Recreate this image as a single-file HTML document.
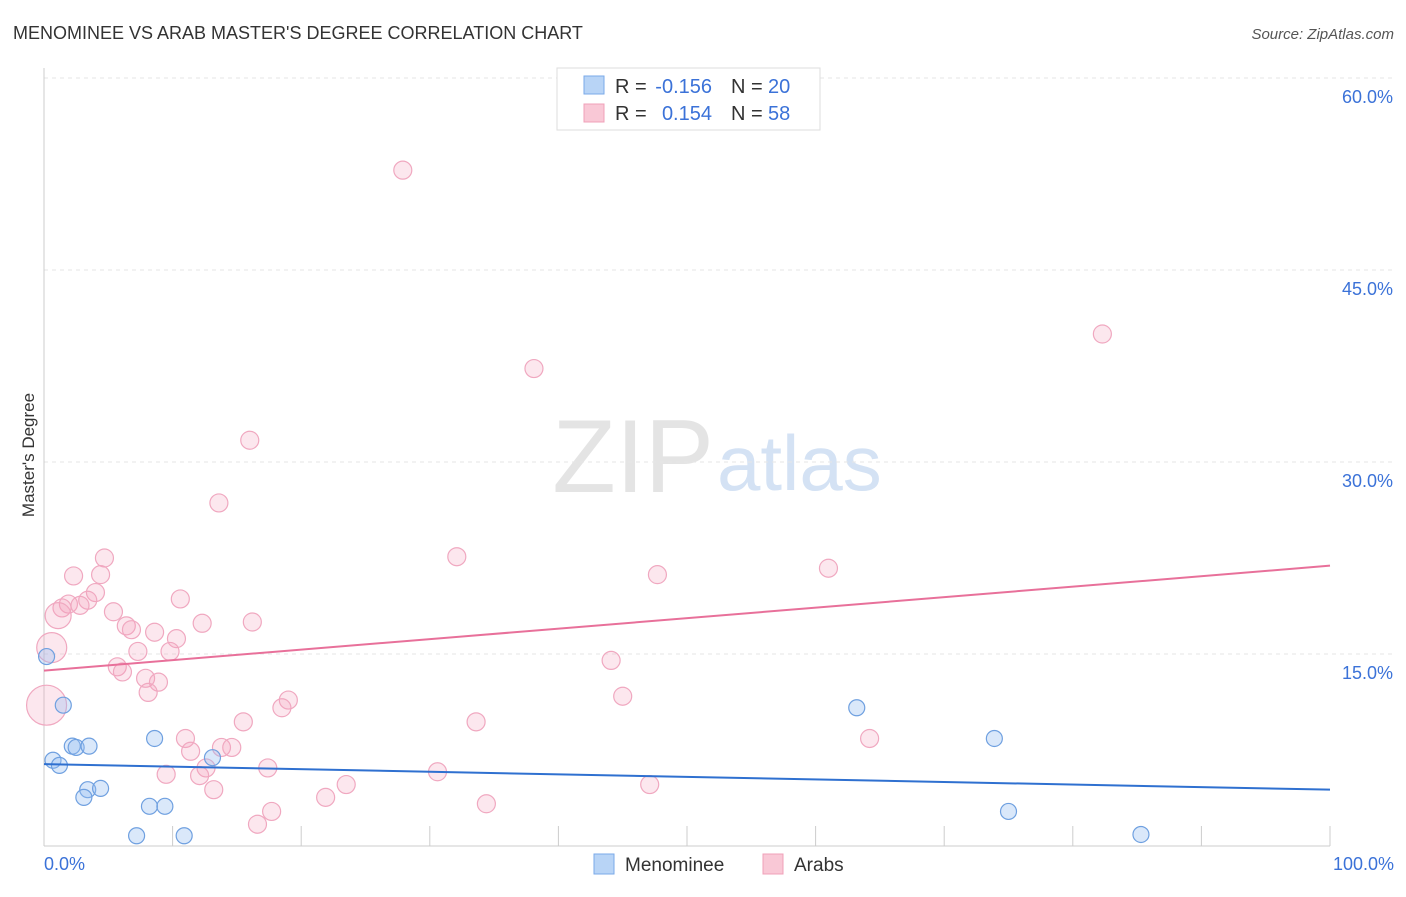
<!DOCTYPE html>
<html><head><meta charset="utf-8"><style>
body{margin:0;background:#fff;font-family:"Liberation Sans",sans-serif;}
svg text{font-family:"Liberation Sans",sans-serif;}
</style></head><body>
<svg id="chart" width="1406" height="892" viewBox="0 0 1406 892" xmlns="http://www.w3.org/2000/svg">
<text x="13" y="39" font-size="18" fill="#333">MENOMINEE VS ARAB MASTER'S DEGREE CORRELATION CHART</text>
<text x="1394" y="39" font-size="15" fill="#555" font-style="italic" text-anchor="end">Source: ZipAtlas.com</text>
<text x="714" y="492" font-size="104" fill="#e4e4e4" text-anchor="end" font-family="Liberation Serif">ZIP</text>
<text x="717" y="490" font-size="78" fill="#d4e2f4">atlas</text>
<g id="grid"></g>
<g id="axes"></g>
<g id="marks"></g>
<text x="34" y="455" font-size="17" fill="#333" text-anchor="middle" transform="rotate(-90 34 455)">Master's Degree</text>
<g>
<rect x="557" y="68" width="263" height="62" fill="#fff" stroke="#ddd"/>
<rect x="584" y="76" width="20" height="18" fill="#b8d4f6" stroke="#7aaae8"/>
<text x="615" y="93" font-size="20" fill="#333">R =</text>
<text x="712" y="93" font-size="20" fill="#3b72d8" text-anchor="end">-0.156</text>
<text x="731" y="93" font-size="20" fill="#333">N =</text>
<text x="768" y="93" font-size="20" fill="#3b72d8">20</text>
<rect x="584" y="104" width="20" height="18" fill="#f9c8d6" stroke="#f0a0b8"/>
<text x="615" y="120" font-size="20" fill="#333">R =</text>
<text x="712" y="120" font-size="20" fill="#3b72d8" text-anchor="end">0.154</text>
<text x="731" y="120" font-size="20" fill="#333">N =</text>
<text x="768" y="120" font-size="20" fill="#3b72d8">58</text>
</g>
<g>
<rect x="594" y="854" width="20" height="20" fill="#b8d4f6" stroke="#7aaae8"/>
<text x="625" y="871" font-size="19" fill="#333">Menominee</text>
<rect x="763" y="854" width="20" height="20" fill="#f9c8d6" stroke="#f0a0b8"/>
<text x="794" y="871" font-size="19" fill="#333">Arabs</text>
</g>
</svg>
<script>
const yTicks=[15,30,45,60];
const xTickLabels=["0.0%","100.0%"];
const arabX=[27.9,82.3,38.1,16.0,13.6,32.1,61.0,47.7,4.7,2.3,4.4,4.0,3.4,1.9,2.8,1.4,1.1,10.6,5.4,6.4,6.8,8.6,12.3,16.2,10.3,7.3,9.8,0.6,5.7,6.1,7.9,8.9,8.1,44.1,45.0,19.0,18.5,0.2,15.5,33.6,11.0,11.4,64.2,13.8,14.6,12.6,12.1,9.5,17.4,30.6,13.2,23.5,47.1,21.9,34.4,17.7,16.6];
const arabY=[52.8,40.0,37.3,31.7,26.8,22.6,21.7,21.2,22.5,21.1,21.2,19.8,19.2,18.9,18.8,18.6,18.0,19.3,18.3,17.2,16.9,16.7,17.4,17.5,16.2,15.2,15.2,15.5,14.0,13.6,13.1,12.8,12.0,14.5,11.7,11.4,10.8,11.0,9.7,9.7,8.4,7.4,8.4,7.7,7.7,6.1,5.5,5.6,6.1,5.8,4.4,4.8,4.8,3.8,3.3,2.7,1.7];
const arabR=[9,9,9,9,9,9,9,9,9,9,9,9,9,9,9,9,13,9,9,9,9,9,9,9,9,9,9,15,9,9,9,9,9,9,9,9,9,20,9,9,9,9,9,9,9,9,9,9,9,9,9,9,9,9,9,9,9];
const menX=[0.2,1.5,0.7,1.2,2.2,2.5,3.5,8.6,13.1,3.4,3.1,4.4,8.2,9.4,7.2,10.9,63.2,73.9,75.0,85.3];
const menY=[14.8,11.0,6.7,6.3,7.8,7.7,7.8,8.4,6.9,4.4,3.8,4.5,3.1,3.1,0.8,0.8,10.8,8.4,2.7,0.9];
const arabTrend=[13.7,21.9];
const menTrend=[6.4,4.4];
const NS="http://www.w3.org/2000/svg";
const X0=44,X1=1330,Y0=846,PPY=12.8;
const sx=v=>X0+(X1-X0)*v/100, sy=v=>Y0-v*PPY;
function mk(t,a,p){const e=document.createElementNS(NS,t);for(const k in a)e.setAttribute(k,a[k]);document.getElementById(p).appendChild(e);return e;}
yTicks.forEach(t=>{
 const l=mk('line',{x1:X0,x2:1394,y1:sy(t),y2:sy(t),stroke:'#e6e6e6','stroke-dasharray':'4,4'},'grid');
 
 
 const tx=mk('text',{x:1393,y:sy(t)+25,'font-size':18,fill:'#3b72d8','text-anchor':'end'},'axes');
 tx.textContent=t.toFixed(1)+'%';
 
 
});
const ax=mk('line',{x1:X0,x2:X1,y1:Y0,y2:Y0,stroke:'#ccc'},'axes');


const ay=mk('line',{x1:X0,x2:X0,y1:68,y2:Y0,stroke:'#ccc'},'axes');


for(let i=0;i<=10;i++){
 const t=mk('line',{x1:sx(i*10),x2:sx(i*10),y1:826,y2:Y0,stroke:'#ccc'},'axes');
 
 
}
[[0,'start',44],[100,'end',1394]].forEach((d,i)=>{
 const t=mk('text',{x:d[2],y:870,'font-size':18,fill:'#3b72d8','text-anchor':d[1]},'axes');
 t.textContent=xTickLabels[i];
 
 
});
arabX.forEach((x,i)=>{
 const c=mk('circle',{cx:sx(x),cy:sy(arabY[i]),r:arabR[i],fill:'rgba(244,160,188,0.25)',stroke:'#f0a8c0','stroke-width':1.2},'marks');
 
 
});
menX.forEach((x,i)=>{
 const c=mk('circle',{cx:sx(x),cy:sy(menY[i]),r:8,fill:'rgba(150,190,240,0.35)',stroke:'#6fa0e0','stroke-width':1.2},'marks');
 
 
});
const tl1=mk('line',{x1:sx(0),x2:sx(100),y1:sy(arabTrend[0]),y2:sy(arabTrend[1]),stroke:'#e8709a','stroke-width':2},'marks');


const tl2=mk('line',{x1:sx(0),x2:sx(100),y1:sy(menTrend[0]),y2:sy(menTrend[1]),stroke:'#2f70d0','stroke-width':2},'marks');


</script>
</body></html>
